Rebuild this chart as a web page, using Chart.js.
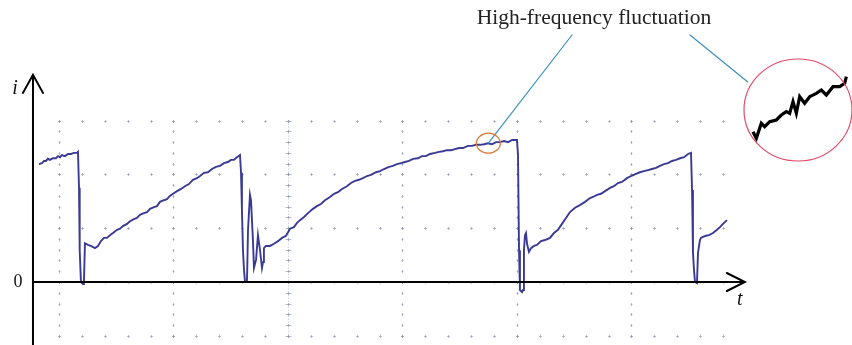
<!DOCTYPE html>
<html>
<head>
<meta charset="utf-8">
<script src="https://cdn.jsdelivr.net/npm/chart.js@4/dist/chart.umd.min.js"></script>
<style>
  html, body { margin: 0; padding: 0; background: #fff; }
  #wrap { width: 852px; height: 345px; }
</style>
</head>
<body>
<div id="wrap"><canvas id="scopeCanvas" width="852" height="345"></canvas></div>
<script>
// time in 0.1 div, current in 0.1 div
const timeVals = [
  -1.75, -1.48, -1.31, -1.14, -0.96, -0.79, -0.52, -0.26, -0.09, 0.09, 0.26, 0.52, 0.79, 1.05, 1.31, 1.57, 1.66,
  1.75, 1.79, 1.83, 1.92, 2.10, 2.18, 2.27, 2.53, 2.79, 3.14, 3.41, 3.67, 3.93, 4.19, 4.45, 4.72, 5.07, 5.33,
  5.59, 5.94, 6.20, 6.55, 6.81, 7.07, 7.42, 7.69, 7.95, 8.30, 8.56, 8.82, 9.17, 9.43, 9.69, 9.96, 10.31, 10.66,
  11.00, 11.35, 11.70, 12.05, 12.32, 12.66, 13.01, 13.36, 13.71, 14.06, 14.41, 14.76, 15.02, 15.28, 15.55, 15.81,
  15.90, 15.98, 16.07, 16.16, 16.25, 16.42, 16.51, 16.68, 16.77, 16.94, 17.03, 17.21, 17.38, 17.56, 17.73, 17.82,
  17.90, 18.08, 18.43, 18.78, 19.13, 19.48, 19.83, 20.18, 20.52, 20.79, 21.05, 21.40, 21.75, 22.18, 22.53, 22.88,
  23.23, 23.67, 24.02, 24.37, 24.72, 25.15, 25.50, 25.85, 26.20, 26.55, 26.90, 27.25, 27.69, 28.04, 28.39, 28.82,
  29.17, 29.52, 29.87, 30.22, 30.57, 30.92, 31.36, 31.70, 32.05, 32.40, 32.84, 33.19, 33.54, 33.89, 34.24, 34.59,
  34.94, 35.28, 35.72, 36.07, 36.42, 36.77, 37.12, 37.47, 37.82, 38.17, 38.52, 38.87, 39.22, 39.57, 40.00,
  40.09, 40.18, 40.26, 40.44, 40.53, 40.61, 40.70, 40.79, 40.88, 41.05, 41.23, 41.49, 41.75, 42.10, 42.45, 42.88,
  43.23, 43.58, 43.93, 44.28, 44.63, 45.07, 45.50, 45.94, 46.38, 46.64, 46.99, 47.34, 47.69, 48.13, 48.47, 48.82,
  49.17, 49.61, 49.96, 50.39, 50.74, 51.09, 51.44, 51.79, 52.14, 52.49, 52.84, 53.19, 53.54, 53.89, 54.24, 54.59,
  54.94, 55.20,
  55.29, 55.37, 55.46, 55.55, 55.72, 55.81, 55.98, 56.07, 56.24, 56.50, 56.77, 57.12, 57.47, 57.73, 57.99, 58.34
];
const currentVals = [
  21.9, 22.1, 22.5, 22.5, 22.9, 22.7, 23.0, 23.0, 23.4, 23.2, 23.6, 23.4, 23.8, 23.8, 24.0, 24.0, 24.2,
  17.5, 6.5, 5.9, 0, -0.4, 0, 7.2, 6.9, 6.7, 6.3, 6.7, 7.6, 8.2, 8.2, 8.7, 9.1, 9.7, 9.9,
  10.4, 10.8, 11.3, 11.7, 11.9, 12.5, 12.8, 13.0, 13.6, 13.9, 14.1, 14.9, 15.2, 15.4, 16.0, 16.4, 16.9, 17.3,
  17.8, 18.2, 19.0, 19.3, 19.7, 20.3, 20.4, 21.0, 21.4, 21.6, 22.1, 22.3, 22.7, 22.7, 23.2, 23.6,
  20.3, 13.4, 5.9, 2.2, 0, 0, 9.7, 16.2, 15.2, 7.8, 2.6, 4.1, 8.7, 5.9, 2.6, 3.7,
  6.3, 6.7, 6.7, 7.1, 7.6, 8.2, 8.6, 9.9, 10.2, 11.0, 11.5, 12.1, 12.8, 13.6, 14.1, 14.5,
  15.2, 15.8, 16.4, 16.7, 17.3, 17.8, 18.4, 18.8, 19.0, 19.3, 19.7, 19.9, 20.4, 20.6, 21.0, 21.4,
  21.6, 21.9, 22.1, 22.3, 22.5, 22.9, 23.0, 23.4, 23.4, 23.8, 24.0, 24.2, 24.3, 24.5, 24.5, 24.7,
  24.9, 24.9, 25.3, 25.3, 25.5, 25.5, 25.6, 25.8, 25.6, 26.0, 26.0, 26.2, 26.0, 26.4, 26.4,
  23.6, 5.9, -1.5, -1.9, -1.5, 5.9, 8.7, 9.1, 7.1, 5.6, 6.3, 6.7, 6.9, 7.6, 7.8, 8.2,
  9.1, 9.7, 10.8, 11.9, 13.0, 13.8, 14.3, 14.9, 15.6, 15.8, 16.2, 16.4, 16.9, 17.5, 17.8, 18.4,
  18.6, 19.3, 19.7, 20.1, 20.4, 20.6, 20.8, 21.0, 21.2, 21.6, 21.9, 22.1, 22.5, 22.7, 23.0, 23.2,
  23.8, 24.0,
  17.1, 5.6, 2.2, 0, -0.2, 5.4, 7.8, 8.2, 8.4, 8.6, 8.7, 9.1, 9.7, 10.2, 10.8, 11.5
];

// magnified piece of the trace shown in the red circle
const insetX = [4.5, 5.5, 7.0, 8.0, 9.5, 11.5, 13.0, 14.5, 15.5, 16.5, 17.5, 18.5, 20.0, 21.5, 23.5, 25.0, 26.5, 28.5, 30.5, 32.0, 32.5];
const insetY = [2.0, 0, 4.5, 3.5, 5.0, 5.5, 7.0, 8.0, 7.5, 11.0, 7.5, 12.5, 10.5, 12.5, 13.5, 14.5, 13.0, 15.5, 15.5, 16.5, 18.5];

// oscilloscope graticule
const majorT = [0, 10, 20, 30, 40, 50];
const majorI = [30, 20, 10, 0, -10];
const minorStep = 2;
const gridTEnd = 58;
const centerT = 20;

const axisLabels = { i: "i", t: "t", zero: "0" };
const noteText = "High-frequency fluctuation";
const hfPoint = { t: 37.5, i: 25.8 };

const points = timeVals.map((t, k) => ({ x: t, y: currentVals[k] }));
const insetPoints = insetX.map((v, k) => ({ x: v, y: insetY[k] }));

const scopePlugin = {
  id: "scope",
  beforeDatasetsDraw(chart) {
    const { ctx, scales } = chart;
    const xs = scales.x, ys = scales.y;
    const top = ys.getPixelForValue(majorI[0]);
    const bot = ys.getPixelForValue(majorI[majorI.length - 1]);
    const x0 = xs.getPixelForValue(majorT[0]);
    const xEnd = xs.getPixelForValue(gridTEnd);
    ctx.save();
    ctx.strokeStyle = "rgba(140,148,175,0.6)";
    ctx.lineWidth = 1;
    // rows: small crosses at each minor time step
    majorI.forEach((iv) => {
      const py = Math.round(ys.getPixelForValue(iv)) + 0.5;
      for (let t = majorT[0]; t <= gridTEnd + 0.01; t += minorStep) {
        const px = Math.round(xs.getPixelForValue(t)) + 0.5;
        ctx.beginPath();
        ctx.moveTo(px - 1.5, py); ctx.lineTo(px + 1.5, py);
        ctx.moveTo(px, py - 1.5); ctx.lineTo(px, py + 1.5);
        ctx.stroke();
      }
    });
    // columns: small marks at each minor current step
    majorT.forEach((tv) => {
      const px = Math.round(xs.getPixelForValue(tv)) + 0.5;
      for (let iv = majorI[majorI.length - 1]; iv <= majorI[0] + 0.01; iv += minorStep) {
        const py = Math.round(ys.getPixelForValue(iv)) + 0.5;
        ctx.beginPath();
        ctx.moveTo(px, py - 1.5); ctx.lineTo(px, py + 1.5);
        ctx.moveTo(px - 1, py); ctx.lineTo(px + 1, py);
        ctx.stroke();
      }
    });
    // centre column: dense dotted line with ticks
    const pc = Math.round(xs.getPixelForValue(centerT)) + 0.5;
    ctx.setLineDash([1, 2]);
    ctx.beginPath();
    ctx.moveTo(pc, top); ctx.lineTo(pc, bot);
    ctx.stroke();
    ctx.setLineDash([]);
    for (let iv = majorI[majorI.length - 1]; iv <= majorI[0] + 0.01; iv += minorStep) {
      const py = Math.round(ys.getPixelForValue(iv)) + 0.5;
      ctx.beginPath();
      ctx.moveTo(pc - 3, py); ctx.lineTo(pc + 3, py);
      ctx.stroke();
    }
    // zero row dotted
    const pz = Math.round(ys.getPixelForValue(0)) + 0.5;
    ctx.setLineDash([1, 2]);
    ctx.beginPath();
    ctx.moveTo(x0, pz); ctx.lineTo(xEnd, pz);
    ctx.stroke();
    ctx.restore();
  },
  afterDatasetsDraw(chart) {
    const { ctx, scales } = chart;
    const xs = scales.x, ys = scales.y;
    const ax = xs.getPixelForValue(-2.27);
    const az = ys.getPixelForValue(0);
    const tipY = ys.getPixelForValue(38.5);
    const tipX = xs.getPixelForValue(59.9);
    ctx.save();
    ctx.strokeStyle = "#000";
    ctx.lineWidth = 2;
    ctx.lineCap = "round";
    ctx.lineJoin = "miter";
    ctx.beginPath();
    ctx.moveTo(ax, chart.height); ctx.lineTo(ax, tipY + 1);
    ctx.moveTo(ax - 10, tipY + 18); ctx.lineTo(ax, tipY); ctx.lineTo(ax + 10, tipY + 18);
    ctx.stroke();
    ctx.beginPath();
    ctx.moveTo(ax, az); ctx.lineTo(tipX - 1, az);
    ctx.moveTo(tipX - 18, az - 9); ctx.lineTo(tipX, az); ctx.lineTo(tipX - 18, az + 9);
    ctx.stroke();

    ctx.fillStyle = "#111";
    ctx.font = "italic 20px 'Liberation Serif', 'DejaVu Serif', serif";
    ctx.textAlign = "center";
    ctx.textBaseline = "middle";
    ctx.fillText(axisLabels.i, ax - 18, tipY + 14);
    ctx.fillText(axisLabels.t, tipX - 5, az + 18);
    ctx.font = "18px 'Liberation Serif', 'DejaVu Serif', serif";
    ctx.fillText(axisLabels.zero, ax - 15, az);

    // annotation
    ctx.font = "21.5px 'Liberation Serif', 'DejaVu Serif', serif";
    ctx.fillStyle = "#222";
    ctx.fillText(noteText, 594, 18);

    const hx = xs.getPixelForValue(hfPoint.t);
    const hy = ys.getPixelForValue(hfPoint.i);
    const x2 = scales.x2, y2 = scales.y2;
    const cx = x2.getPixelForValue(18.0), cy = y2.getPixelForValue(8.5);
    const rx = x2.getPixelForValue(18.0 + 16.2) - cx;
    const ry = cy - y2.getPixelForValue(8.5 + 15.3);

    ctx.strokeStyle = "#3d8fbd";
    ctx.lineWidth = 1.2;
    ctx.beginPath();
    ctx.moveTo(572, 35); ctx.lineTo(hx, hy);
    ctx.moveTo(690, 35); ctx.lineTo(cx - rx * 0.93, cy - ry * 0.55);
    ctx.stroke();

    ctx.strokeStyle = "#e07a3a";
    ctx.lineWidth = 1.3;
    ctx.beginPath();
    ctx.ellipse(hx, hy, 12, 10, 0, 0, Math.PI * 2);
    ctx.stroke();

    ctx.strokeStyle = "#e24a66";
    ctx.lineWidth = 1.2;
    ctx.beginPath();
    ctx.ellipse(cx, cy, rx, ry, 0, 0, Math.PI * 2);
    ctx.stroke();
    ctx.restore();
  }
};

new Chart(document.getElementById("scopeCanvas"), {
  type: "line",
  data: {
    datasets: [
      {
        label: "i(t)",
        data: points,
        borderColor: "#3a3a96",
        borderWidth: 1.9,
        pointRadius: 0,
        tension: 0,
        xAxisID: "x",
        yAxisID: "y"
      },
      {
        label: "zoom",
        data: insetPoints,
        borderColor: "#000",
        borderWidth: 3.2,
        pointRadius: 0,
        tension: 0,
        clip: false,
        xAxisID: "x2",
        yAxisID: "y2"
      }
    ]
  },
  options: {
    responsive: false,
    animation: false,
    layout: { padding: 0 },
    plugins: { legend: { display: false }, tooltip: { enabled: false } },
    scales: {
      x: { type: "linear", min: -5.15, max: 69.26, display: false },
      y: { type: "linear", min: -11.71, max: 52.42, display: false },
      x2: { type: "linear", min: -221.4, max: 34.2, display: false },
      y2: { type: "linear", min: -62.0, max: 41.5, display: false }
    }
  },
  plugins: [scopePlugin]
});
</script>
</body>
</html>
